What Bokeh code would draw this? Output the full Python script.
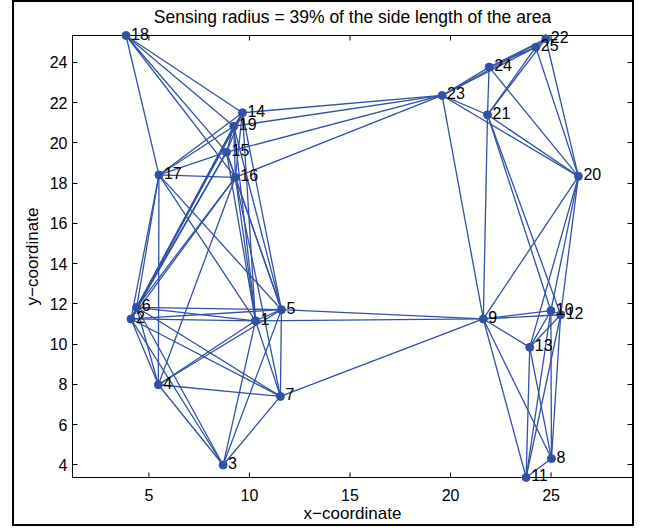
import math

from bokeh.embed import file_html
from bokeh.models import ColumnDataSource, FixedTicker, Label, LinearAxis, Range1d
from bokeh.plotting import figure
from bokeh.resources import INLINE

# Sensor node positions (node number, x, y)
node_ids = list(range(1, 26))
node_x = [10.30, 4.11, 8.69, 5.47, 11.59, 4.39, 11.54, 25.02, 21.63, 24.99,
          23.76, 25.48, 23.94, 9.65, 8.86, 9.30, 5.50, 3.86, 9.22, 26.36,
          21.84, 24.74, 19.58, 21.92, 24.24]
node_y = [11.16, 11.25, 3.99, 7.98, 11.71, 11.83, 7.40, 4.31, 11.25, 11.66,
          3.37, 11.46, 9.84, 21.50, 19.54, 18.29, 18.41, 25.34, 20.83, 18.34,
          21.40, 25.18, 22.36, 23.77, 24.76]

# Sensing radius as a share of the side length of the deployment area
area_side = 30.0
radius_pct = 39

x_ticks = [5, 10, 15, 20, 25]
y_ticks = [4, 6, 8, 10, 12, 14, 16, 18, 20, 22, 24]

FONT = "Liberation Sans"
BLUE = "#3151A6"
PX_PER_UNIT = 20.1          # drawing scale of both axes
TICK_LEN = 5 / PX_PER_UNIT  # inward tick length
PAD = 8 / PX_PER_UNIT       # room above/below the box so edge labels stay visible

# Two nodes are linked when they lie within sensing range of each other
radius = area_side * radius_pct / 100.0
edge_xs, edge_ys = [], []
for i in range(len(node_ids)):
    for j in range(i + 1, len(node_ids)):
        d = math.hypot(node_x[i] - node_x[j], node_y[i] - node_y[j])
        if d <= radius:
            edge_xs.append([node_x[i], node_x[j]])
            edge_ys.append([node_y[i], node_y[j]])

# The axes box: tight to the nodes vertically
x_lo, x_hi = 1.2, 29.05
y_lo, y_hi = min(node_y), max(node_y)

p = figure(
    width=622, height=526,
    x_range=Range1d(x_lo, x_hi), y_range=Range1d(y_lo - PAD, y_hi + PAD),
    output_backend="svg", toolbar_location=None,
    min_border_left=58, min_border_right=4, min_border_top=25, min_border_bottom=43,
    title=f"Sensing radius = {radius_pct}% of the side length of the area",
)
p.styles = {"border": "2px solid black", "margin-left": "12px"}

p.title.align = "center"
p.title.text_font = FONT
p.title.text_font_size = "17.5px"
p.title.text_font_style = "normal"
p.title.text_color = "black"
p.title.standoff = 2

p.grid.visible = False
p.outline_line_color = None
p.background_fill_color = "white"
p.border_fill_color = "white"


def style_axis(ax, ticks):
    ax.ticker = FixedTicker(ticks=ticks)
    ax.major_tick_in = 5
    ax.major_tick_out = 0
    ax.minor_tick_line_color = None
    ax.axis_line_color = "black"
    ax.major_tick_line_color = "black"
    ax.major_label_text_font = FONT
    ax.major_label_text_font_size = "16px"
    ax.major_label_text_color = "black"
    ax.major_label_standoff = 5
    ax.axis_label_text_font = FONT
    ax.axis_label_text_font_size = "17px"
    ax.axis_label_text_font_style = "normal"
    ax.axis_label_text_color = "black"
    ax.axis_label_standoff = 5


# Left and right box sides are the y axes, limited to the box height
style_axis(p.yaxis[0], y_ticks)
p.yaxis[0].bounds = (y_lo, y_hi)
p.yaxis[0].axis_label = "y\u2212coordinate"

right = LinearAxis()
style_axis(right, y_ticks)
right.bounds = (y_lo, y_hi)
right.major_label_text_color = None
right.major_label_text_font_size = "1px"
right.major_label_standoff = 0
p.add_layout(right, "right")

# Bottom axis carries only the labels; its ticks sit on the box edge below
style_axis(p.xaxis[0], x_ticks)
p.xaxis[0].axis_line_color = None
p.xaxis[0].major_tick_line_color = None
p.xaxis[0].major_tick_in = 0
p.xaxis[0].major_label_standoff = 3
p.xaxis[0].axis_label_standoff = 0
p.xaxis[0].axis_label = "x\u2212coordinate"

# Top and bottom box edges with inward ticks
p.segment(x0=[x_lo, x_lo], y0=[y_lo, y_hi], x1=[x_hi, x_hi], y1=[y_lo, y_hi],
          line_color="black", line_width=1)
p.segment(x0=x_ticks, y0=[y_lo] * len(x_ticks), x1=x_ticks,
          y1=[y_lo + TICK_LEN] * len(x_ticks), line_color="black", line_width=1)
p.segment(x0=x_ticks, y0=[y_hi] * len(x_ticks), x1=x_ticks,
          y1=[y_hi - TICK_LEN] * len(x_ticks), line_color="black", line_width=1)

p.multi_line(edge_xs, edge_ys, line_color=BLUE, line_width=1.3)

src = ColumnDataSource(dict(x=node_x, y=node_y))
p.scatter("x", "y", source=src, size=8, fill_color=BLUE, line_color=BLUE)

# Node numbers beside each node
for n, x, y in zip(node_ids, node_x, node_y):
    p.add_layout(Label(x=x, y=y, text=str(n), x_offset=5, y_offset=2,
                       text_font=FONT, text_font_size="16px", text_color="black",
                       text_baseline="middle", text_align="left"))

open("out.html", "w").write(file_html(p, INLINE))
